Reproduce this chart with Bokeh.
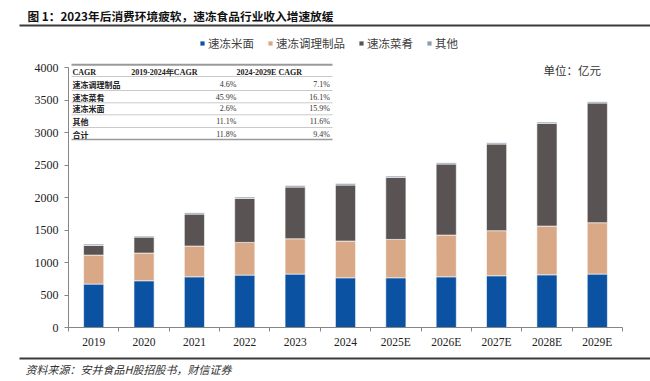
from bokeh.plotting import figure
from bokeh.models import ColumnDataSource, Range1d, FixedTicker
from bokeh.core.properties import value
from bokeh.embed import file_html
from bokeh.resources import INLINE
import numpy as np

# ---------------- data ----------------
years = ["2019", "2020", "2021", "2022", "2023", "2024", "2025E", "2026E", "2027E", "2028E", "2029E"]
rice_noodle = [668, 719, 780, 806, 822, 765, 765, 780, 796, 811, 822]      # 速冻米面
prepared = [446, 426, 473, 503, 543, 565, 590, 642, 693, 749, 790]         # 速冻调理制品
dishes = [149, 246, 492, 677, 796, 862, 955, 1093, 1334, 1581, 1842]       # 速冻菜肴
others = [20, 15, 21, 21, 25, 25, 20, 21, 20, 20, 20]                      # 其他
series_names = ["速冻米面", "速冻调理制品", "速冻菜肴", "其他"]
colors = ["#0B52A2", "#D9A886", "#5A5353", "#8E9BAE"]
y_ticks = [0, 500, 1000, 1500, 2000, 2500, 3000, 3500, 4000]
y_max = 4000

table_header = ["CAGR", "2019-2024年CAGR", "2024-2029E CAGR"]
table_rows = ["速冻调理制品", "速冻菜肴", "速冻米面", "其他", "合计"]
cagr_2019_2024 = ["4.6%", "45.9%", "2.6%", "11.1%", "11.8%"]
cagr_2024_2029 = ["7.1%", "16.1%", "15.9%", "11.6%", "9.4%"]

title_text = "图 1：2023年后消费环境疲软，速冻食品行业收入增速放缓"
source_text = "资料来源：安井食品H股招股书，财信证券"
unit_text = "单位：亿元"

SERIF = "'Liberation Serif', 'Noto Sans CJK SC'"
SERIF1 = "Liberation Serif"
CJK = "Noto Sans CJK SC"
W, H = 650, 381

# page-pixel placement of the chart area
C_LEFT, C_RIGHT = 68, 622          # page x of category 0 and category n
Y0_PAGE, Y4000_PAGE = 327, 67      # page y of value 0 and 4000

n = len(years)
xs = np.arange(n) + 0.5
src = ColumnDataSource(dict(x=xs, s0=rice_noodle, s1=prepared, s2=dishes, s3=others))

kx = (C_RIGHT - C_LEFT) / n
ky = (Y0_PAGE - Y4000_PAGE) / y_max
x_range = Range1d(-C_LEFT / kx, n + (W - C_RIGHT) / kx)
y_range = Range1d(-(H - Y0_PAGE) / ky, y_max + Y4000_PAGE / ky)

p = figure(width=W, height=H, output_backend="svg", toolbar_location=None,
           x_range=x_range, y_range=y_range,
           min_border=0, min_border_left=0, min_border_right=0,
           min_border_top=0, min_border_bottom=0)
p.outline_line_color = None
p.background_fill_color = "white"
p.border_fill_color = "white"
p.xgrid.grid_line_color = None
p.ygrid.grid_line_color = None
p.extra_x_ranges = {"px": Range1d(0, W)}
p.extra_y_ranges = {"px": Range1d(H, 0)}

p.vbar_stack(["s0", "s1", "s2", "s3"], x="x", width=0.4, color=colors, source=src,
             line_color="white", line_width=0.6, legend_label=series_names)

ax = p.xaxis[0]
ax.fixed_location = 0
ax.bounds = (0, n)
ax.ticker = FixedTicker(ticks=list(xs), minor_ticks=list(np.arange(n + 1)))
ax.major_label_overrides = {float(x): y for x, y in zip(xs, years)}
ax.major_tick_out = 0
ax.major_tick_in = 0
ax.minor_tick_out = 4
ax.minor_tick_in = 0
ax.minor_tick_line_color = "#868686"
ax.axis_line_color = "#868686"
ax.major_label_text_font = SERIF
ax.major_label_text_font_size = "11.5px"
ax.major_label_text_color = "#222222"
ax.major_label_standoff = 4

ay = p.yaxis[0]
ay.fixed_location = 0
ay.bounds = (0, y_max)
ay.ticker = FixedTicker(ticks=y_ticks)
ay.major_tick_out = 4
ay.major_tick_in = 0
ay.minor_tick_line_color = None
ay.major_tick_line_color = "#868686"
ay.axis_line_color = "#868686"
ay.major_label_text_font = SERIF
ay.major_label_text_font_size = "12px"
ay.major_label_text_color = "#222222"
ay.major_label_standoff = 6

lg = p.legend[0]
lg.location = (199, H - 50.7)
lg.orientation = "horizontal"
lg.border_line_color = None
lg.background_fill_alpha = 0
lg.padding = 0
lg.margin = 0
lg.spacing = 13
lg.glyph_width = 6
lg.glyph_height = 6
lg.label_height = 12
lg.label_standoff = 3
lg.label_text_font = CJK
lg.label_text_font_size = "11.5px"
lg.label_text_color = "#404040"


def txt(x, y, text, size, font=CJK, style="normal", align="left", color="#222222"):
    # x, y in page pixels, drawn through the "px" ranges
    p.text(x=[x], y=[y], text=[text], text_font=value(font), text_font_size=size,
           text_font_style=style, text_align=align, text_baseline="middle",
           text_color=color, x_range_name="px", y_range_name="px")


def hline(x0, x1, y, width, color):
    p.segment(x0=[x0], y0=[y], x1=[x1], y1=[y], line_width=width, line_color=color,
              x_range_name="px", y_range_name="px")


# title, rules, source, unit
txt(27, 15, title_text, "11.7px", style="bold", color="#111111")
hline(19, W, 25, 2, "#3A3A3A")
hline(19, W, 358, 2, "#3A3A3A")
txt(25, 368, source_text, "11px", style="italic", color="#333333")
txt(543, 69, unit_text, "11.5px", color="#333333")

# CAGR table
t_left, t_right = 71, 332
hline(t_left, t_right, 64.3, 2, "#9A9A9A")
for yl in [76, 90, 102.3, 114.3, 127]:
    hline(t_left, t_right, yl, 0.8, "#BDBDBD")
hline(t_left, t_right, 139, 1.5, "#9A9A9A")

txt(72, 71.7, table_header[0], "8px", font=SERIF1, style="bold")
txt(163.8, 71.7, table_header[1], "8px", font=SERIF1, style="bold", align="center")
txt(268.7, 71.7, table_header[2], "8px", font=SERIF1, style="bold", align="center")
row_y = [84.3, 96.7, 108.3, 121, 134]
for yy, name, a, b in zip(row_y, table_rows, cagr_2019_2024, cagr_2024_2029):
    txt(72, yy, name, "8px", font=CJK, style="bold")
    txt(236, yy, a, "8px", font=SERIF1, align="right", color="#333333")
    txt(329.5, yy, b, "8px", font=SERIF1, align="right", color="#333333")

open("out.html", "w").write(file_html(p, INLINE))
